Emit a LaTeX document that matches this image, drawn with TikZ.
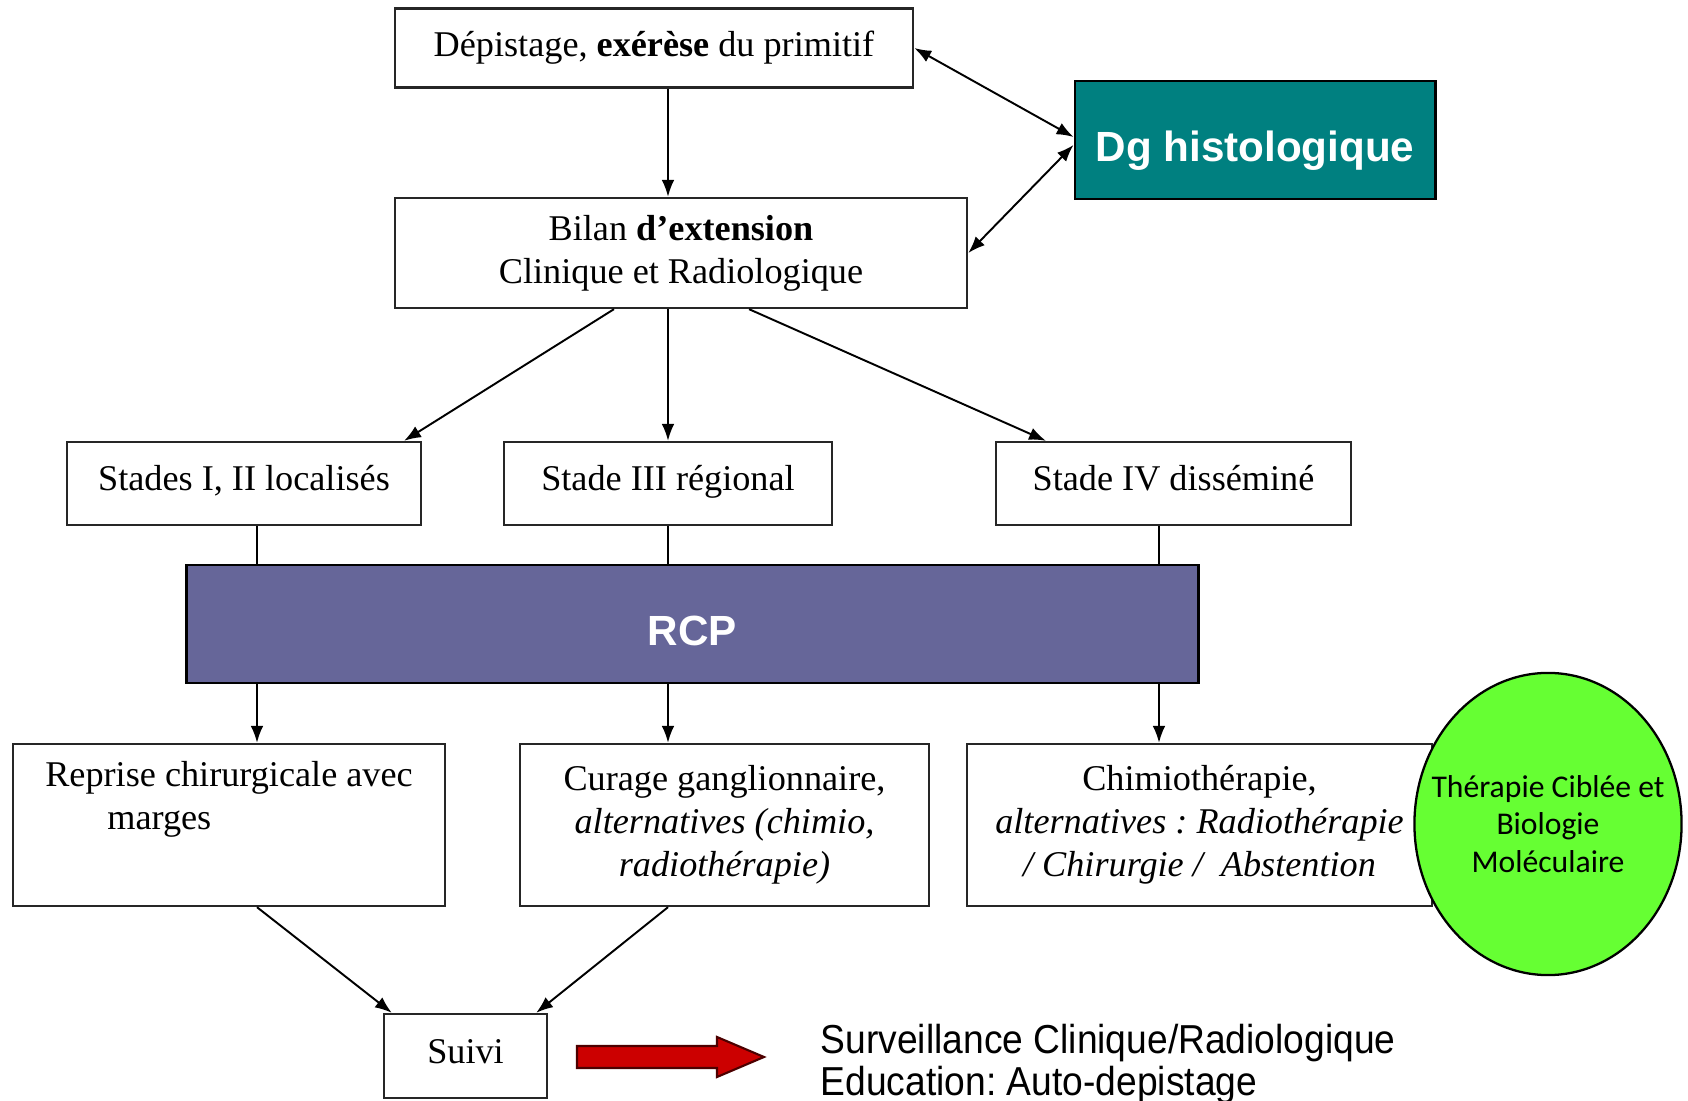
\documentclass[tikz,border=0pt]{standalone}
\usepackage{fontspec}
\setmainfont{Liberation Serif}
\newfontfamily\headfont{Liberation Sans}
\newfontfamily\notefont{Liberation Sans}[FakeStretch=0.92]
\newfontfamily\ovalfont{Carlito}
\usepackage{tikz}
\usetikzlibrary{shapes, shapes.geometric, arrows.meta, positioning, calc}
\usepackage{xcolor}
\definecolor{histoTeal}{RGB}{0, 128, 128}
\definecolor{rcpPurple}{RGB}{102, 102, 153}
\definecolor{ovalGreen}{RGB}{102, 255, 51}
\definecolor{arrowRed}{RGB}{204, 0, 0}
\frenchspacing

\begin{document}
\begin{tikzpicture}[
        x=0.01cm, y=-0.01cm,
        font=\fontsize{10.3}{12.2}\selectfont,
        stepbox/.style={rectangle, draw=black!85, fill=white, line width=0.65pt, align=center, inner sep=2pt},
        stadebox/.style={stepbox, minimum height=0.83cm, text height=0.75em, text depth=0.33em},
        colorbox/.style={rectangle, draw=black, line width=0.8pt, text=white, text height=1.45em, text depth=0.2em, font=\headfont\fontsize{12}{14}\selectfont\bfseries},
        arrow/.style={-{Latex[length=4.8pt, width=3.6pt]}, line width=0.55pt},
        twoway/.style={{Latex[length=4.8pt, width=3.6pt]}-{Latex[length=4.8pt, width=3.6pt]}, line width=0.55pt},
        link/.style={line width=0.55pt}
    ]
        \useasboundingbox (0,0) rectangle (1688,1101);

        % Columns
        \coordinate (col1) at (257,0);
        \coordinate (col2) at (668,0);
        \coordinate (col3) at (1159,0);

        % Top
        \node[stepbox, minimum width=5.18cm, minimum height=0.79cm] (depist) at (654,48) {Dépistage, \textbf{exérèse} du primitif};
        \node[stepbox, minimum width=5.72cm, minimum height=1.10cm] (bilan) at (681,253) {Bilan \textbf{d’extension}\\Clinique et Radiologique};
        \node[colorbox, fill=histoTeal, minimum width=3.6cm, minimum height=1.18cm] (histo) at (1255,140) {Dg histologique};

        % Stades
        \node[stadebox, minimum width=3.54cm] (stade12) at (244,483.5) {Stades I, II localisés};
        \node[stadebox, minimum width=3.28cm] (stade3) at (668,483.5) {Stade III régional};
        \node[stadebox, minimum width=3.55cm] (stade4) at (1173.5,483.5) {Stade IV disséminé};

        \node[colorbox, fill=rcpPurple, minimum width=10.11cm, minimum height=1.18cm] (rcp) at (692.5,624) {RCP};

        % Traitements
        \node[stepbox, minimum width=4.32cm, minimum height=1.62cm, align=left] (reprise) at (229,825) {Reprise chirurgicale avec\\\hspace*{0.62cm}marges\\[4.5pt]\mbox{}};
        \node[stepbox, minimum width=4.09cm, minimum height=1.62cm] (curage) at (724.5,825) {Curage ganglionnaire,\\\textit{alternatives (chimio,}\\\textit{radiothérapie)}};
        \node[stepbox, minimum width=4.65cm, minimum height=1.62cm] (chimio) at (1199.5,825) {Chimiothérapie,\\\textit{alternatives : Radiothérapie}\\\textit{/ Chirurgie /\ \ Abstention}};
        \node[ellipse, draw=black, fill=ovalGreen, line width=0.65pt, minimum width=2.67cm, minimum height=3.02cm] (therapie) at (1548,824) {};
        \node[align=center, font=\ovalfont\fontsize{9}{10.7}\selectfont] (therapietxt) at (therapie) {Thérapie Ciblée et\\Biologie\\Moléculaire};

        % Suivi
        \node[stepbox, minimum width=1.63cm, minimum height=0.84cm, text height=0.72em, text depth=0.3em] (suivi) at (465.5,1056) {Suivi};
        \node[anchor=west, align=left, inner sep=0pt, font=\notefont\fontsize{11.5}{12}\selectfont] (surveil) at (820,1064) {Surveillance Clinique/Radiologique\\Education: Auto-depistage};
        \draw[fill=arrowRed, draw=black!70!red, line width=0.6pt] (577,1046) -- (717,1046) -- (717,1037) -- (764,1057) -- (717,1077) -- (717,1068) -- (577,1068) -- cycle;

        \draw[arrow] (depist.south -| col2) -- (bilan.north -| col2);
        \draw[twoway] (depist.east) -- ([yshift=0.03cm]histo.west);
        \draw[twoway] (bilan.east) -- ([yshift=-0.05cm]histo.west);

        \draw[arrow] ([xshift=-0.67cm]bilan.south) -- ([xshift=1.6cm]stade12.north);
        \draw[arrow] (bilan.south -| col2) -- (stade3.north -| col2);
        \draw[arrow] ([xshift=0.68cm]bilan.south) -- ([xshift=-1.275cm]stade4.north);

        \draw[link] (stade12.south -| col1) -- (rcp.north -| col1);
        \draw[link] (stade3.south -| col2) -- (rcp.north -| col2);
        \draw[link] (stade4.south -| col3) -- (rcp.north -| col3);

        \draw[arrow] (rcp.south -| col1) -- (reprise.north -| col1);
        \draw[arrow] (rcp.south -| col2) -- (curage.north -| col2);
        \draw[arrow] (rcp.south -| col3) -- (chimio.north -| col3);

        \draw[arrow] (reprise.south -| col1) -- ([xshift=0.09cm]suivi.north west);
        \draw[arrow] (curage.south -| col2) -- ([xshift=-0.12cm]suivi.north east);
    \end{tikzpicture}
\end{document}
